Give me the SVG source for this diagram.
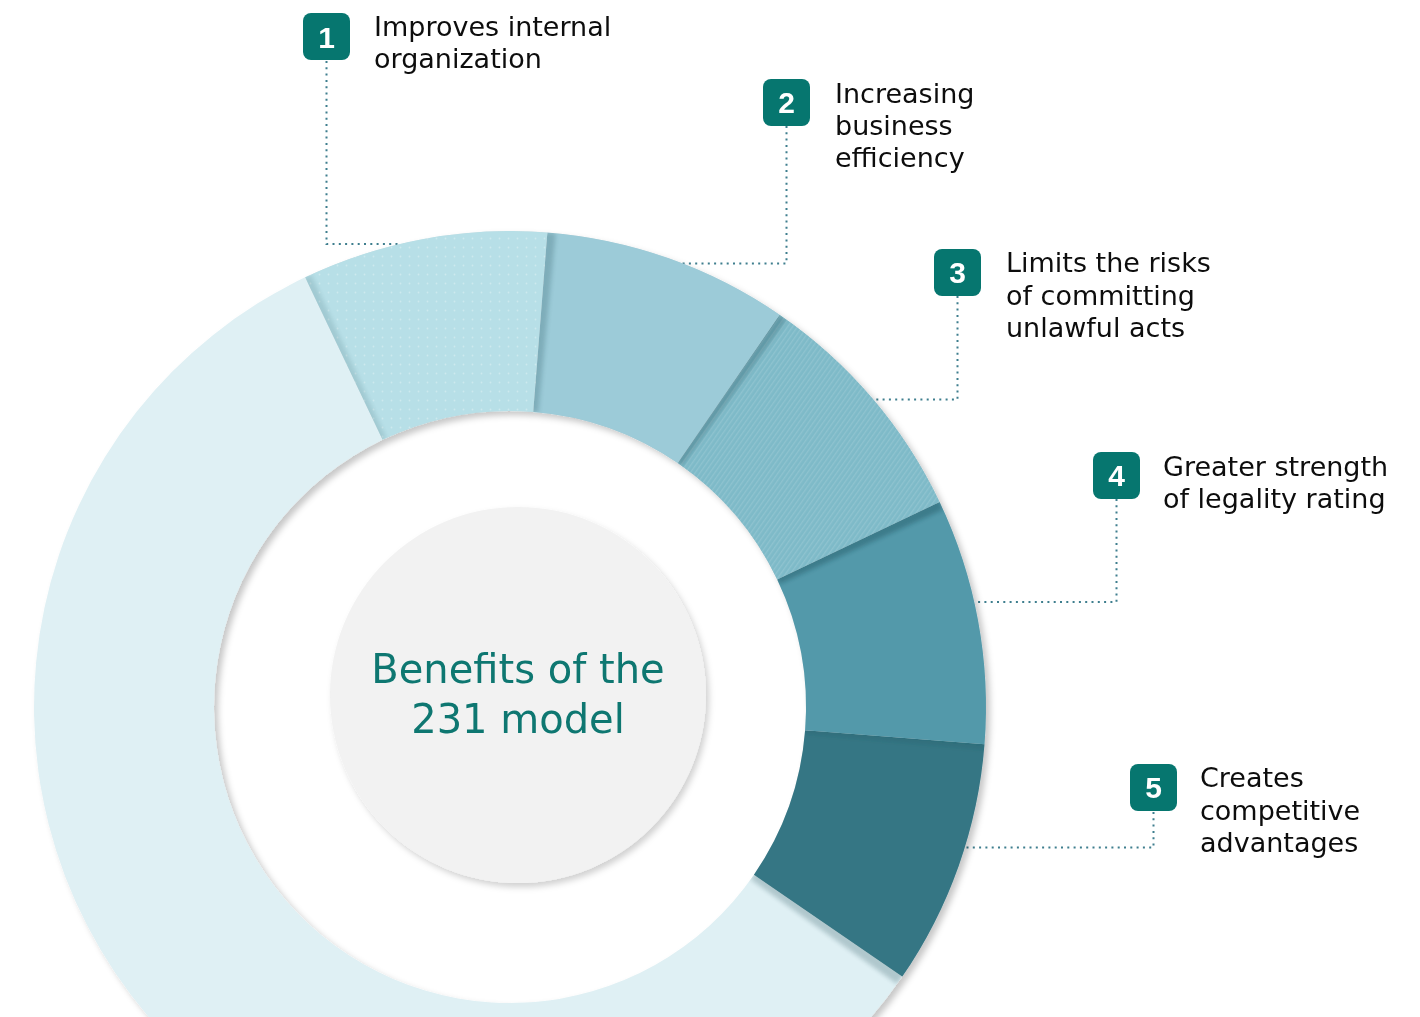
<svg xmlns="http://www.w3.org/2000/svg" width="1420" height="1017" viewBox="0 0 1420 1017">
<style>
.lbl{font-family:"DejaVu Sans",sans-serif;font-size:27px;fill:#0d0d0d}
.num{font-family:"Liberation Sans",Arial,sans-serif;font-weight:bold;font-size:30px;fill:#fff;text-anchor:middle}
.badge{fill:#06766F}
.conn{fill:none;stroke:#3E7E8E;stroke-width:2;stroke-dasharray:2 4.3}
.title{font-family:"DejaVu Sans",sans-serif;font-size:40px;fill:#0E7771;text-anchor:middle}
.sh{fill:#0b3a45;filter:url(#blur)}
</style>
<defs>
<filter id="ringShadow" x="-10%" y="-10%" width="120%" height="120%">
<feDropShadow dx="4" dy="4" stdDeviation="3" flood-color="#000" flood-opacity="0.22"/>
</filter>
<filter id="discShadow" x="-10%" y="-10%" width="120%" height="120%">
<feDropShadow dx="3" dy="4" stdDeviation="3" flood-color="#000" flood-opacity="0.18"/>
</filter>
<filter id="blur" x="-10%" y="-10%" width="120%" height="120%">
<feGaussianBlur stdDeviation="2"/>
</filter>
<pattern id="dots" width="9" height="9" patternUnits="userSpaceOnUse">
<circle cx="4.5" cy="4.5" r="0.9" fill="#fff" fill-opacity="0.3"/>
</pattern>
<pattern id="stripes" width="4" height="4" patternUnits="userSpaceOnUse" patternTransform="rotate(-55)">
<rect width="4" height="1.3" fill="#fff" fill-opacity="0.13"/>
</pattern>
<clipPath id="ringClip">
<path clip-rule="evenodd" d="M34,707 A476,476 0 1 1 986,707 A476,476 0 1 1 34,707 Z M214,707 A296,296 0 1 0 806,707 A296,296 0 1 0 214,707 Z"/>
</clipPath>
<clipPath id="s1Clip">
<path d="M305.08,277.37 A476,476 0 0 1 547.35,232.47 L533.22,411.91 A296,296 0 0 0 382.57,439.83 Z"/>
</clipPath>
</defs>

<g id="connectors">
<path class="conn" d="M326.5,61 V244 H400"/>
<path class="conn" d="M786.5,126 V263.5 H680"/>
<path class="conn" d="M957.5,296 V399.5 H872"/>
<path class="conn" d="M1116.5,499 V602 H974"/>
<path class="conn" d="M1153.5,812 V847.5 H963"/>
</g>

<g id="ring" filter="url(#ringShadow)">
<path id="seg-rest" fill="#DFF0F4" d="M902.29,976.61 A476,476 0 1 1 305.08,277.37 L382.57,439.83 A296,296 0 1 0 753.94,874.66 Z"/>
<g clip-path="url(#ringClip)">
<path class="sh" opacity="0.22" transform="rotate(1.1 510 707)" d="M984.53,744.35 A476,476 0 0 1 902.29,976.61 L753.94,874.66 A296,296 0 0 0 805.09,730.22 Z"/>
</g>
<g id="seg5">
<path fill="#357684" d="M984.53,744.35 A476,476 0 0 1 902.29,976.61 L753.94,874.66 A296,296 0 0 0 805.09,730.22 Z"/>
</g>
<g clip-path="url(#ringClip)">
<path class="sh" opacity="0.12" transform="rotate(0.6 510 707)" d="M939.63,502.08 A476,476 0 0 1 984.53,744.35 L805.09,730.22 A296,296 0 0 0 777.17,579.57 Z"/>
</g>
<g id="seg4">
<path fill="#5399AA" d="M939.63,502.08 A476,476 0 0 1 984.53,744.35 L805.09,730.22 A296,296 0 0 0 777.17,579.57 Z"/>
</g>
<g clip-path="url(#ringClip)">
<path class="sh" opacity="0.3" transform="rotate(1.0 510 707)" d="M779.61,314.71 A476,476 0 0 1 939.63,502.08 L777.17,579.57 A296,296 0 0 0 677.66,463.06 Z"/>
</g>
<g id="seg3">
<path fill="#7EBAC8" d="M779.61,314.71 A476,476 0 0 1 939.63,502.08 L777.17,579.57 A296,296 0 0 0 677.66,463.06 Z"/>
<path fill="url(#stripes)" d="M779.61,314.71 A476,476 0 0 1 939.63,502.08 L777.17,579.57 A296,296 0 0 0 677.66,463.06 Z"/>
</g>
<g clip-path="url(#ringClip)">
<path class="sh" opacity="0.25" transform="rotate(1.0 510 707)" d="M547.35,232.47 A476,476 0 0 1 779.61,314.71 L677.66,463.06 A296,296 0 0 0 533.22,411.91 Z"/>
</g>
<g id="seg2">
<path fill="#9CCBD8" d="M547.35,232.47 A476,476 0 0 1 779.61,314.71 L677.66,463.06 A296,296 0 0 0 533.22,411.91 Z"/>
</g>
<g clip-path="url(#ringClip)">
<path class="sh" opacity="0.2" transform="rotate(1.0 510 707)" d="M305.08,277.37 A476,476 0 0 1 547.35,232.47 L533.22,411.91 A296,296 0 0 0 382.57,439.83 Z"/>
</g>
<g id="seg1">
<path fill="#B7DFE7" d="M305.08,277.37 A476,476 0 0 1 547.35,232.47 L533.22,411.91 A296,296 0 0 0 382.57,439.83 Z"/>
<path fill="url(#dots)" d="M305.08,277.37 A476,476 0 0 1 547.35,232.47 L533.22,411.91 A296,296 0 0 0 382.57,439.83 Z"/>
</g>
<g clip-path="url(#s1Clip)">
<path class="sh" opacity="0.12" transform="rotate(0.8 510 707)" d="M902.29,976.61 A476,476 0 1 1 305.08,277.37 L382.57,439.83 A296,296 0 1 0 753.94,874.66 Z"/>
</g>
</g>

<g id="center">
<circle cx="518" cy="695" r="188" fill="#F2F2F2" filter="url(#discShadow)"/>
<text class="title" x="518" y="683">Benefits of the</text>
<text class="title" x="518" y="733">231 model</text>
</g>

<g id="item1">
<rect class="badge" x="303" y="13" width="47" height="47" rx="8"/>
<text class="num" x="326.5" y="47.5">1</text>
<text class="lbl" x="374" y="36">Improves internal</text>
<text class="lbl" x="374" y="68">organization</text>
</g>
<g id="item2">
<rect class="badge" x="763" y="79" width="47" height="47" rx="8"/>
<text class="num" x="786.5" y="113">2</text>
<text class="lbl" x="835" y="103">Increasing</text>
<text class="lbl" x="835" y="135">business</text>
<text class="lbl" x="835" y="167">efficiency</text>
</g>
<g id="item3">
<rect class="badge" x="934" y="249" width="47" height="47" rx="8"/>
<text class="num" x="957.5" y="283">3</text>
<text class="lbl" x="1006" y="272">Limits the risks</text>
<text class="lbl" x="1006" y="304.5">of committing</text>
<text class="lbl" x="1006" y="337">unlawful acts</text>
</g>
<g id="item4">
<rect class="badge" x="1093" y="452" width="47" height="47" rx="8"/>
<text class="num" x="1116.5" y="486">4</text>
<text class="lbl" x="1163" y="476">Greater strength</text>
<text class="lbl" x="1163" y="508">of legality rating</text>
</g>
<g id="item5">
<rect class="badge" x="1130" y="764" width="47" height="47" rx="8"/>
<text class="num" x="1153.5" y="798">5</text>
<text class="lbl" x="1200" y="787">Creates</text>
<text class="lbl" x="1200" y="820">competitive</text>
<text class="lbl" x="1200" y="852">advantages</text>
</g>
</svg>
